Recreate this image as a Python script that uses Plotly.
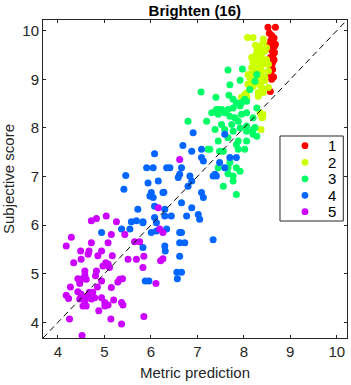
import plotly.graph_objects as go

# ---- data ----
g1_x = [8.52,8.68,8.55,8.60,8.65,8.58,8.62,8.55,8.66,8.60,8.63,8.57,8.65,8.60,8.62,8.58,8.64,8.60,8.55,8.57,8.62,8.66,8.68,8.59]
g1_y = [10.07,10.07,9.95,9.90,9.85,9.80,9.75,9.70,9.68,9.60,9.50,9.45,9.40,9.30,9.20,9.10,9.05,9.00,9.15,8.75,9.35,9.55,9.72,9.25]

g2_x = [8.08,8.20,8.42,8.35,8.28,8.45,8.24,8.38,8.49,8.31,8.20,8.42,8.17,8.28,8.38,8.53,8.13,8.24,8.35,8.17,8.28,8.45,8.09,8.38,8.13,8.53,8.31,8.06,8.42,8.17,8.31,8.49,8.53,8.35,8.42,8.31,8.09,8.13,8.20,8.35,8.42,8.31,7.95,8.41,8.39,8.37,8.02,8.06,8.35,8.40,8.25,8.40,8.22,8.45]
g2_y = [9.86,9.86,9.76,9.65,9.58,9.58,9.48,9.52,9.41,9.38,9.35,9.31,9.24,9.24,9.17,9.17,9.10,9.10,9.04,8.97,8.93,8.97,8.90,8.83,8.80,8.83,8.73,8.63,8.73,9.45,9.45,9.65,9.31,9.28,9.83,9.68,9.10,9.03,8.86,8.89,8.79,8.65,8.63,8.28,8.22,7.97,8.69,8.72,8.31,8.21,9.70,9.40,9.18,9.05]

g3_x = [7.66,7.97,7.08,7.40,7.68,7.92,7.70,6.80,7.20,7.45,7.27,7.48,7.56,7.88,8.02,7.84,7.45,7.66,7.70,7.84,7.92,7.66,7.77,7.77,7.56,7.84,7.77,7.84,7.95,8.06,7.92,7.77,7.66,7.52,7.41,7.31,7.45,7.59,7.70,7.81,7.95,8.06,7.88,7.74,7.52,7.38,7.59,7.77,7.92,8.06,8.20,8.20,8.28,8.06,7.88,7.66,7.45,7.23,8.24,8.28,8.13,8.02,8.28,8.24,8.20,8.06]
g3_y = [9.19,9.21,8.74,8.63,8.67,8.98,8.89,8.14,8.14,8.38,7.56,7.52,7.52,7.56,7.56,7.66,7.18,7.18,7.29,7.18,7.11,7.06,7.01,6.91,6.80,6.63,8.59,8.52,8.52,8.55,8.45,8.41,8.38,8.38,8.38,8.31,8.28,8.31,8.24,8.21,8.28,8.31,8.14,8.07,8.07,7.97,7.97,7.93,8.00,8.04,8.21,7.97,7.83,7.73,7.73,7.80,7.73,7.56,8.96,9.10,8.79,8.59,8.41,8.01,7.87,7.93]

g4_x = [6.91,6.69,6.88,7.09,6.08,5.46,5.42,5.91,6.05,6.34,6.41,6.66,6.16,5.94,6.59,6.62,6.84,6.88,7.09,7.13,7.34,7.38,7.41,7.48,7.59,7.70,7.84,7.59,5.98,6.01,6.05,6.26,6.66,7.09,7.13,6.08,6.30,5.72,6.88,6.30,6.44,6.08,6.77,7.02,7.05,5.69,4.94,5.37,5.55,5.83,6.12,6.01,6.12,6.34,6.62,6.66,7.34,5.83,6.30,6.31,6.62,6.73,6.62,6.56,6.66,6.57,5.88,5.96,6.80,6.28,5.58,5.83]
g4_y = [7.90,7.64,7.52,7.56,7.47,7.02,6.74,7.18,7.18,7.18,7.18,7.18,6.91,6.87,6.98,7.05,7.01,6.91,7.39,7.32,7.01,7.05,7.01,7.29,7.87,7.39,7.39,7.18,6.60,6.67,6.57,6.67,6.46,6.67,6.57,6.39,6.33,6.33,6.36,6.19,6.19,6.16,6.19,6.22,6.12,6.09,5.85,5.92,5.92,6.05,6.05,5.85,5.88,5.92,5.85,5.85,5.70,5.54,5.57,5.47,5.64,5.64,5.36,5.03,5.03,4.90,4.85,4.85,6.80,6.68,6.07,6.07]

g5_x = [6.62,6.16,6.19,6.26,4.72,4.83,5.04,5.26,5.15,5.44,5.65,5.76,4.29,4.18,4.72,5.08,4.49,4.67,4.65,4.34,4.50,4.86,4.94,5.17,5.51,5.69,5.85,5.83,5.03,5.08,4.97,5.11,6.21,6.26,6.11,4.58,4.58,4.83,4.81,4.43,4.50,4.61,4.47,4.94,5.29,5.39,5.33,4.27,4.85,5.15,4.18,4.23,4.43,4.50,4.54,4.47,4.58,4.65,4.68,4.75,4.72,4.54,4.61,4.79,4.94,5.01,5.08,5.01,5.20,5.37,5.40,4.88,4.25,5.14,5.37,5.85,4.52]
g5_y = [7.35,6.36,5.92,5.85,6.09,6.14,6.19,6.07,5.81,5.81,5.66,5.66,5.75,5.57,5.64,5.64,5.47,5.47,5.40,5.23,5.30,5.37,5.47,5.37,5.30,5.30,5.36,5.13,5.23,5.20,5.16,5.13,5.27,5.31,4.80,5.06,4.97,5.06,4.96,4.90,4.89,4.89,4.80,4.85,4.83,4.90,4.89,4.73,4.73,4.72,4.56,4.49,4.63,4.58,4.51,4.48,4.44,4.55,4.62,4.62,4.48,4.34,4.34,4.51,4.51,4.41,4.36,4.34,4.46,4.41,4.36,4.24,4.07,4.07,3.97,4.12,3.73]

names = ["1", "2", "3", "4", "5"]
colors = ["#FF0000", "#CCFF00", "#00FF66", "#0066FF", "#CC00FF"]
groups = [(g1_x, g1_y), (g2_x, g2_y), (g3_x, g3_y), (g4_x, g4_y), (g5_x, g5_y)]

axis_range = [3.68, 10.22]
ticks = [4, 5, 6, 7, 8, 9, 10]

fig = go.Figure()
for (gx, gy), nm, c in zip(groups, names, colors):
    fig.add_trace(go.Scatter(x=gx, y=gy, mode="markers", name=nm, showlegend=False,
                             marker=dict(color=c, size=7, line=dict(width=0))))

fig.add_trace(go.Scatter(x=axis_range, y=axis_range, mode="lines", showlegend=False,
                         line=dict(color="black", width=1, dash="6px,4px"), hoverinfo="skip"))

font_family = "Liberation Sans, Arial, sans-serif"
axis_common = dict(range=axis_range, tickvals=ticks, ticks="inside", ticklen=3,
                   tickcolor="#262626", showline=True, linecolor="#262626", linewidth=1,
                   mirror="ticks", showgrid=False, zeroline=False,
                   tickfont=dict(size=15, color="#262626", family=font_family))

# ---- legend box (drawn as shapes + text, MATLAB style) ----
leg_x0, leg_x1, leg_y0, leg_y1 = 0.7796, 0.9878, 0.3679, 0.6352
leg_marker_x = 0.8618
leg_text_x = 0.932
leg_rows = [0.6047, 0.5525, 0.5005, 0.4487, 0.3972]

shapes = [dict(type="rect", xref="paper", yref="paper", x0=leg_x0, x1=leg_x1,
               y0=leg_y0, y1=leg_y1, line=dict(color="#262626", width=1),
               fillcolor="white", layer="above")]
annotations = []
for nm, c, ry in zip(names, colors, leg_rows):
    shapes.append(dict(type="circle", xref="paper", yref="paper", xsizemode="pixel",
                       ysizemode="pixel", xanchor=leg_marker_x, yanchor=ry,
                       x0=-3.4, x1=3.4, y0=-3.4, y1=3.4, fillcolor=c,
                       line=dict(width=0), layer="above"))
    annotations.append(dict(text=nm, xref="paper", yref="paper", x=leg_text_x, y=ry,
                            xanchor="left", yanchor="middle", showarrow=False,
                            font=dict(size=15, color="black", family=font_family)))

fig.update_layout(
    width=351, height=385,
    margin=dict(l=43, r=4, t=20, b=47),
    plot_bgcolor="white", paper_bgcolor="white",
    title=dict(text="<b>Brighten (16)</b>", x=0.555, xanchor="center", y=0.973, yanchor="middle",
               font=dict(size=15, color="black", family=font_family)),
    xaxis=dict(axis_common, title=dict(text="Metric prediction", standoff=8,
                                       font=dict(size=15, color="#262626", family=font_family))),
    yaxis=dict(axis_common, title=dict(text="Subjective score", standoff=4,
                                       font=dict(size=15, color="#262626", family=font_family))),
    shapes=shapes,
    annotations=annotations,
    showlegend=False,
)

fig.write_html("out.html")
